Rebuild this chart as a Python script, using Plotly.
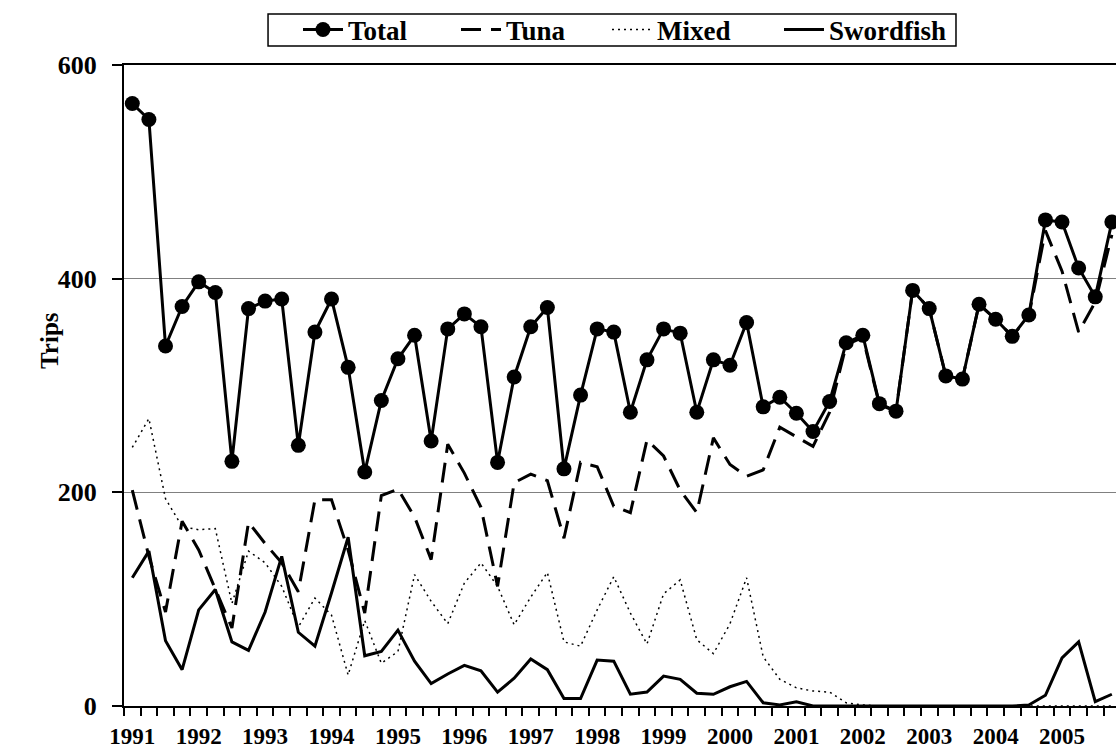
import plotly.graph_objects as go

# Quarterly categories 1991 Q1 .. 2005 Q4
years = [str(y) for y in range(1991, 2006)]
quarters = [f"{y} Q{q}" for y in range(1991, 2006) for q in range(1, 5)]

total = [564, 549, 337, 374, 397, 387, 229, 372, 379, 381,
         244, 350, 381, 317, 219, 286, 325, 347, 248, 353,
         367, 355, 228, 308, 355, 373, 222, 291, 353, 350,
         275, 324, 353, 349, 275, 324, 319, 359, 280, 289,
         274, 257, 285, 340, 347, 283, 276, 389, 372, 309,
         306, 376, 362, 346, 366, 455, 453, 410, 383, 453]

tuna = [202, 140, 88, 173, 146, 110, 73, 172, 152, 134,
        107, 193, 193, 146, 87, 197, 203, 177, 137, 245,
        218, 186, 112, 209, 217, 211, 157, 228, 224, 187,
        181, 249, 234, 202, 181, 251, 226, 215, 221, 261,
        252, 243, 275, 338, 345, 282, 276, 389, 372, 309,
        306, 376, 362, 346, 365, 445, 407, 350, 378, 441]

mixed = [242, 269, 194, 168, 165, 166, 96, 145, 134, 112,
         74, 101, 85, 29, 80, 40, 51, 123, 98, 77,
         115, 134, 112, 76, 102, 125, 60, 56, 90, 121,
         87, 58, 105, 118, 62, 49, 77, 120, 46, 25,
         17, 14, 13, 3, 1, 0, 0, 0, 0, 0,
         0, 0, 0, 0, 0, 0, 0, 0, 0, 0]

swordfish = [120, 145, 61, 34, 90, 109, 60, 52, 88, 140,
             69, 56, 106, 158, 47, 51, 71, 42, 21, 30,
             38, 33, 13, 26, 44, 34, 7, 7, 43, 42,
             11, 13, 28, 25, 12, 11, 18, 23, 3, 1,
             4, 0, 0, 0, 0, 0, 0, 0, 0, 0,
             0, 0, 0, 0, 1, 10, 45, 60, 4, 11]

FONT = "Liberation Serif, Times New Roman, serif"
x = list(range(len(quarters)))

fig = go.Figure()
fig.add_trace(go.Scatter(x=x, y=total, name="Total", mode="lines+markers",
                         line=dict(color="black", width=3),
                         marker=dict(color="black", size=15, symbol="circle"),
                         legendwidth=103,
                         text=quarters, hoverinfo="text+y"))
fig.add_trace(go.Scatter(x=x, y=tuna, name="Tuna", mode="lines",
                         line=dict(color="black", width=3, dash="20px,10px"),
                         legendwidth=96,
                         text=quarters, hoverinfo="text+y"))
fig.add_trace(go.Scatter(x=x, y=mixed, name="Mixed", mode="lines",
                         line=dict(color="black", width=1.5, dash="2px,4px"),
                         legendwidth=117,
                         text=quarters, hoverinfo="text+y"))
fig.add_trace(go.Scatter(x=x, y=swordfish, name="Swordfish", mode="lines",
                         line=dict(color="black", width=3),
                         legendwidth=125,
                         text=quarters, hoverinfo="text+y"))

fig.update_layout(
    width=1116, height=749,
    margin=dict(l=124, r=0, t=65, b=43),
    paper_bgcolor="white", plot_bgcolor="white",
    font=dict(family=FONT, color="black", size=24, weight="bold"),
    showlegend=True,
    legend=dict(orientation="h", x=0.1754, xanchor="left", y=1.0546, yanchor="middle",
                borderwidth=0, bgcolor="rgba(0,0,0,0)",
                font=dict(family=FONT, size=27, color="black", weight="bold"),
                itemwidth=40, tracegroupgap=0),
    shapes=[dict(type="rect", xref="paper", yref="paper",
                 x0=0.1452, x1=0.8387, y0=1.0296, y1=1.0796,
                 line=dict(color="black", width=1.5), fillcolor="rgba(0,0,0,0)",
                 layer="below")],
    annotations=[dict(text="Trips", xref="paper", yref="paper",
                      x=-0.0746, y=0.571, textangle=-90, showarrow=False,
                      xanchor="center", yanchor="middle",
                      font=dict(family=FONT, size=25, color="black", weight="bold"))],
)

fig.update_xaxes(
    range=[-0.5, 59.25],
    tickmode="array", tickvals=x[::4], ticktext=years,
    ticks="", ticklabelstandoff=8,
    tickfont=dict(family=FONT, size=23, color="black", weight="bold"),
    showline=True, linecolor="black", linewidth=2, mirror=True,
    showgrid=False, zeroline=False,
    minor=dict(tickmode="array", tickvals=[i - 0.5 for i in range(61)],
               ticks="outside", ticklen=8, tickwidth=1.5, tickcolor="black",
               showgrid=False),
)
fig.update_yaxes(
    range=[0, 600], tickmode="array", tickvals=[0, 200, 400, 600],
    ticks="outside", ticklen=10, tickwidth=1.5, tickcolor="black",
    ticklabelstandoff=10,
    tickfont=dict(family=FONT, size=26, color="black", weight="bold"),
    showline=True, linecolor="black", linewidth=2,
    showgrid=True, gridcolor="#808080", gridwidth=1,
    zeroline=False,
)

fig.write_html("out.html",
               config={"displayModeBar": False},
               post_script="document.body.style.margin='0';"
                           "document.body.style.overflow='hidden';")
